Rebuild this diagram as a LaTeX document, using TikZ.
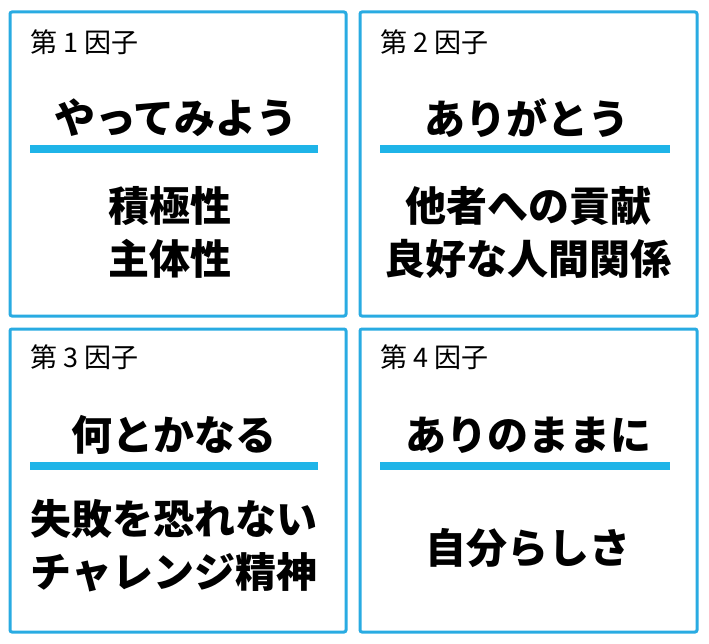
\documentclass[tikz,border=0pt]{standalone}
\usepackage{fontspec}
\setmainfont{Noto Sans CJK JP}
\definecolor{frame}{HTML}{29ABE2}
\definecolor{bar}{HTML}{1FB4E8}
\tikzset{
 panel/.style={draw=frame,line width=3pt,rounded corners=2pt},
 hdr/.style={anchor=west,font=\fontsize{27}{27}\selectfont,inner sep=0pt},
 ttl/.style={font=\fontsize{41}{41}\selectfont\bfseries,inner sep=0pt},
 body/.style={font=\fontsize{41}{53}\selectfont\bfseries,align=center,inner sep=0pt},
 barline/.style={fill=bar,draw=none}
}
\begin{document}
\begin{tikzpicture}[x=1pt,y=-1pt]
\useasboundingbox (0,0) rectangle (709,644);
\fill[white] (0,0) rectangle (709,644);
\draw[panel] (10,12) rectangle (346,316);
\draw[panel] (360,12) rectangle (697,316);
\draw[panel] (10,329) rectangle (346,632);
\draw[panel] (360,329) rectangle (697,632);
\fill[barline] (30,145) rectangle (318,153);
\fill[barline] (380,145) rectangle (670,153);
\fill[barline] (30,462) rectangle (318,470);
\fill[barline] (380,462) rectangle (670,470);
\node[hdr] (h1) at (30,42) {第 1 因子};
\node[hdr] (h2) at (380,42) {第 2 因子};
\node[hdr] (h3) at (30,357) {第 3 因子};
\node[hdr] (h4) at (380,357) {第 4 因子};
\node[ttl] (t1) at (176,118) {やってみよう};
\node[ttl] (t2) at (527,118) {ありがとう};
\node[ttl] (t3) at (174,435) {何とかなる};
\node[ttl] (t4) at (528,435) {ありのままに};
\node[body] (b1) at (170,232) {積極性\\主体性};
\node[body] (b2) at (528,232) {他者への貢献\\良好な人間関係};
\node[body] (b3) at (174,546) {失敗を恐れない\\チャレンジ精神};
\node[body] (b4) at (528,548) {自分らしさ};
\end{tikzpicture}
\end{document}
